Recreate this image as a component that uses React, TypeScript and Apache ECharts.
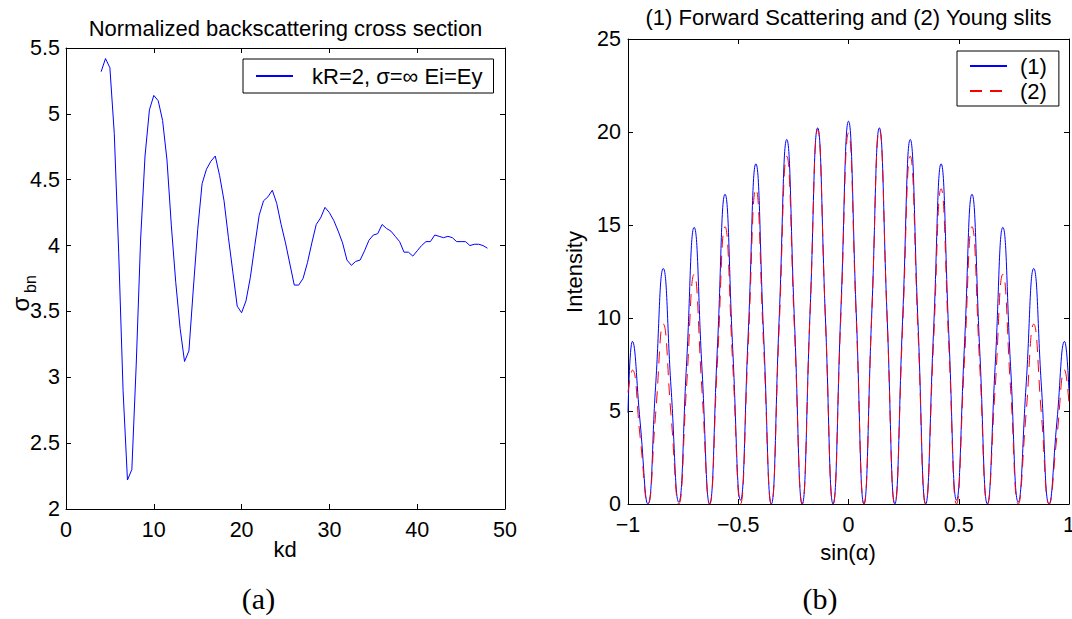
import { useEffect, useRef } from "react";
import * as echarts from "echarts";

const FONT = '"Liberation Sans", Arial, Helvetica, sans-serif';
const SERIF = '"Liberation Serif", "DejaVu Serif", serif';

// ---- (a) Normalized backscattering cross section ----
const kd = [
  4, 4.5, 5, 5.5, 6, 6.5, 7, 7.5, 8, 8.5,
  9, 9.5, 10, 10.5, 11, 11.5, 12, 12.5, 13, 13.5,
  14, 14.5, 15, 15.5, 16, 16.5, 17, 17.5, 18, 18.5,
  19, 19.5, 20, 20.5, 21, 21.5, 22, 22.5, 23, 23.5,
  24, 24.5, 25, 25.5, 26, 26.5, 27, 27.5, 28, 28.5,
  29, 29.5, 30, 30.5, 31, 31.5, 32, 32.5, 33, 33.5,
  34, 34.5, 35, 35.5, 36, 36.5, 37, 37.5, 38, 38.5,
  39, 39.5, 40, 40.5, 41, 41.5, 42, 42.5, 43, 43.5,
  44, 44.5, 45, 45.5, 46, 46.5, 47, 47.5, 48,
];
const sigmaBn = [
  5.32, 5.42, 5.35, 4.85, 3.95, 2.9, 2.22, 2.3, 3.1, 4.05,
  4.68, 5.03, 5.14, 5.1, 4.95, 4.65, 4.15, 3.72, 3.37, 3.12,
  3.2, 3.67, 4.12, 4.47, 4.58, 4.64, 4.68, 4.53, 4.34, 4.06,
  3.8, 3.54, 3.49, 3.58, 3.76, 4.0, 4.23, 4.34, 4.37, 4.42,
  4.32, 4.16, 4.02, 3.86, 3.7, 3.7, 3.75, 3.87, 4.02, 4.16,
  4.21, 4.29, 4.25, 4.19, 4.11, 4.02, 3.89, 3.85, 3.88, 3.89,
  3.96, 4.04, 4.08, 4.09, 4.16, 4.13, 4.11, 4.07, 4.03, 3.95,
  3.95, 3.92, 3.96, 4.0, 4.03, 4.03, 4.08, 4.07, 4.06, 4.07,
  4.06, 4.03, 4.03, 4.03, 4.0, 4.01, 4.01, 4.0, 3.98,
];
const LEFT_NAME = "kR=2, σ=∞ Ei=Ey";

// ---- (b) Forward scattering vs Young slits ----
const sinAlpha = [
  -1, -0.98, -0.945, -0.91, -0.875, -0.84, -0.805, -0.77, -0.735, -0.7,
  -0.665, -0.63, -0.595, -0.56, -0.525, -0.49, -0.455, -0.42, -0.385, -0.35,
  -0.315, -0.28, -0.245, -0.21, -0.175, -0.14, -0.105, -0.07, -0.035, 0,
  0.035, 0.07, 0.105, 0.14, 0.175, 0.21, 0.245, 0.28, 0.315, 0.35,
  0.385, 0.42, 0.455, 0.49, 0.525, 0.56, 0.595, 0.63, 0.665, 0.7,
  0.735, 0.77, 0.805, 0.84, 0.875, 0.91, 0.945, 0.98, 1,
];
const intensity1 = [
  4.9, 8.74, 4.4, 0.0, 6.3, 12.66, 6.3, 0.1, 7.4, 14.87,
  7.4, 0.0, 8.3, 16.65, 8.3, 0.2, 9.1, 18.29, 9.1, 0.0,
  9.8, 19.6, 9.8, 0.0, 10.1, 20.22, 10.1, 0.0, 10.3, 20.58,
  10.3, 0.0, 10.1, 20.22, 10.1, 0.0, 9.8, 19.6, 9.8, 0.0,
  9.1, 18.29, 9.1, 0.2, 8.3, 16.65, 8.3, 0.0, 7.4, 14.87,
  7.4, 0.1, 6.3, 12.66, 6.3, 0.0, 4.4, 8.74, 6.1,
];
const intensity2 = [
  6.0, 7.2, 3.6, 0.0, 4.8, 9.67, 4.8, 0.0, 6.2, 12.35,
  6.2, 0.0, 7.5, 14.91, 7.5, 0.0, 8.5, 16.95, 8.5, 0.0,
  9.35, 18.7, 9.35, 0.0, 10.05, 20.13, 10.05, 0.0, 10.0, 19.95,
  10.0, 0.0, 10.05, 20.13, 10.05, 0.0, 9.35, 18.7, 9.35, 0.0,
  8.5, 16.95, 8.5, 0.0, 7.5, 14.91, 7.5, 0.0, 6.2, 12.35,
  6.2, 0.0, 4.8, 9.67, 4.8, 0.0, 3.6, 7.2, 5.4,
];
const RIGHT_NAMES = ["(1)", "(2)"];

export default function App() {
  const ref = useRef<HTMLDivElement>(null);

  useEffect(() => {
    if (!ref.current) return;
    const chart = echarts.init(ref.current, null, { renderer: "svg" });

    const axisLine = { show: true, onZero: false, lineStyle: { color: "#000", width: 1 } };
    const axisTick = { show: true, inside: true, length: 5, lineStyle: { color: "#000", width: 1 } };
    const label = { color: "#000", fontSize: 21.5, fontFamily: FONT };
    const minus = (v: number) => String(v).replace("-", "\u2212");
    const mk = (o: any) => ({ type: "value", axisLine, axisTick, splitLine: { show: false }, ...o });

    const legendText = { fontSize: 22, fontFamily: FONT, color: "#000", lineHeight: 22 };

    const text = (t: string, x: number, y: number, extra: any = {}) => ({
      type: "text",
      x,
      y,
      silent: true,
      ...(extra.rotation !== undefined ? { rotation: extra.rotation } : {}),
      style: {
        text: t,
        fill: "#000",
        fontSize: extra.fontSize ?? 22,
        fontFamily: extra.fontFamily ?? FONT,
        align: "center",
        verticalAlign: "middle",
      },
    });

    chart.setOption({
      animation: false,
      backgroundColor: "#fff",
      grid: [
        { left: 66, top: 48, width: 439, height: 461, outerBoundsMode: "none", containLabel: false },
        { left: 628, top: 39, width: 441, height: 465, outerBoundsMode: "none", containLabel: false },
      ],
      xAxis: [
        mk({ gridIndex: 0, position: "bottom", min: 0, max: 50, interval: 10, axisLabel: { ...label, margin: 10 } }),
        mk({ gridIndex: 0, position: "top", min: 0, max: 50, interval: 10, axisLabel: { show: false } }),
        mk({ gridIndex: 1, position: "bottom", min: -1, max: 1, interval: 0.5, axisLabel: { ...label, margin: 10, formatter: minus } }),
        mk({ gridIndex: 1, position: "top", min: -1, max: 1, interval: 0.5, axisLabel: { show: false } }),
      ],
      yAxis: [
        mk({ gridIndex: 0, position: "left", min: 2, max: 5.5, interval: 0.5, axisLabel: { ...label, margin: 6 } }),
        mk({ gridIndex: 0, position: "right", min: 2, max: 5.5, interval: 0.5, axisLabel: { show: false } }),
        mk({ gridIndex: 1, position: "left", min: 0, max: 25, interval: 5, axisLabel: { ...label, margin: 7 } }),
        mk({ gridIndex: 1, position: "right", min: 0, max: 25, interval: 5, axisLabel: { show: false } }),
      ],
      legend: [
        {
          data: [LEFT_NAME],
          left: 243,
          top: 59,
          orient: "vertical",
          padding: [6, 11, 6, 12],
          itemWidth: 37,
          itemHeight: 14,
          borderColor: "#000",
          borderWidth: 1,
          backgroundColor: "#fff",
          selectedMode: false,
          itemStyle: { opacity: 0 },
          textStyle: { ...legendText, padding: [0, 0, 0, 14] },
        },
        {
          data: RIGHT_NAMES,
          left: 957,
          top: 51,
          orient: "vertical",
          padding: [4, 12, 4, 12],
          itemGap: 3,
          itemWidth: 37,
          itemHeight: 14,
          borderColor: "#000",
          borderWidth: 1,
          backgroundColor: "#fff",
          selectedMode: false,
          itemStyle: { opacity: 0 },
          textStyle: { ...legendText, padding: [0, 0, 0, 8] },
        },
      ],
      series: [
        {
          name: LEFT_NAME,
          type: "line",
          xAxisIndex: 0,
          yAxisIndex: 0,
          symbol: "none",
          data: kd.map((x, i) => [x, sigmaBn[i]]),
          lineStyle: { color: "#0000ff", width: 1 },
          itemStyle: { color: "#0000ff" },
        },
        {
          name: RIGHT_NAMES[0],
          type: "line",
          xAxisIndex: 2,
          yAxisIndex: 2,
          symbol: "none",
          smooth: 0.5,
          data: sinAlpha.map((x, i) => [x, intensity1[i]]),
          lineStyle: { color: "#0000ff", width: 1 },
          itemStyle: { color: "#0000ff" },
        },
        {
          name: RIGHT_NAMES[1],
          type: "line",
          xAxisIndex: 2,
          yAxisIndex: 2,
          symbol: "none",
          smooth: 0.5,
          data: sinAlpha.map((x, i) => [x, intensity2[i]]),
          lineStyle: { color: "#ff0000", width: 1, type: [12, 8] },
          itemStyle: { color: "#ff0000" },
        },
      ],
      graphic: [
        text("Normalized backscattering cross section", 285.5, 28),
        text("(1) Forward Scattering and (2) Young slits", 848.5, 17.5),
        text("kd", 285, 549.5),
        text("sin(α)", 848, 552),
        text("Intensity", 574, 272, { rotation: Math.PI / 2 }),
        text("σ", 20, 304, { rotation: Math.PI / 2, fontSize: 24 }),
        text("bn", 30, 284, { rotation: Math.PI / 2, fontSize: 16 }),
        text("(a)", 258.5, 598, { fontFamily: SERIF, fontSize: 30 }),
        text("(b)", 820, 598, { fontFamily: SERIF, fontSize: 30 }),
      ],
    });

    return () => chart.dispose();
  }, []);

  return (
    <div
      ref={ref}
      style={{ position: "absolute", left: 0, top: 0, width: 1072, height: 619, background: "#fff" }}
    />
  );
}
